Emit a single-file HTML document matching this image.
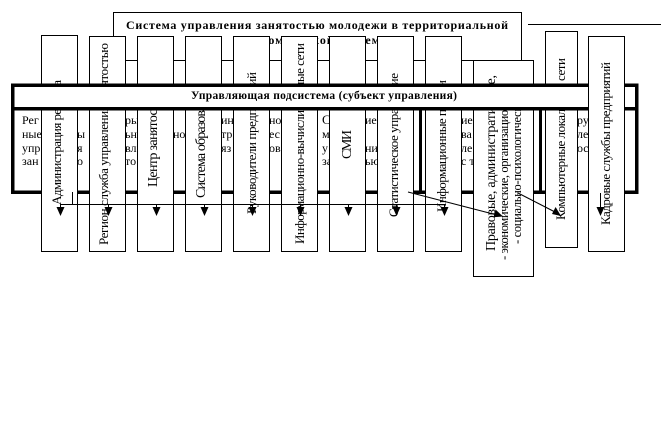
<!DOCTYPE html>
<html><head><meta charset="utf-8"><style>
html,body{margin:0;padding:0;background:#fff;width:666px;height:445px;overflow:hidden}
svg{display:block}
text{font-family:"Liberation Serif",serif;fill:#000}
.b{fill:#fff;stroke:#000;stroke-width:1}
.t{font-size:13px}
.p{font-size:12px}
.l{stroke:#000;stroke-width:1;fill:none}
</style></head><body>
<svg width="666" height="445" viewBox="0 0 666 445" shape-rendering="crispEdges">
<rect x="113.5" y="12.5" width="408" height="48" class="b"/>
<text x="126" y="29" font-size="12" font-weight="bold" textLength="382" lengthAdjust="spacing">Система управления занятостью молодежи в территориальной</text>
<text x="240" y="44" font-size="12" font-weight="bold" textLength="146" lengthAdjust="spacing">экономической системе</text>
<line x1="528" y1="24.5" x2="661" y2="24.5" class="l"/>

<rect x="12.5" y="85" width="624" height="107" fill="#fff"/>
<g class="p">
<text x="22" y="124">Рег</text><text x="125" y="124">ры</text><text x="221" y="124">инф</text><text x="269" y="124">ног</text><text x="322" y="124" font-size="13">С</text><text x="365" y="124">ие</text><text x="461" y="124">ие</text><text x="577" y="124">руд</text>
<text x="22" y="138">ные</text><text x="77" y="138">ы</text><text x="125" y="138">ьн</text><text x="173" y="138">но</text><text x="221" y="138">тр</text><text x="269" y="138">ес</text><text x="322" y="138">м</text><text x="461" y="138">ва</text><text x="577" y="138">ле</text>
<text x="22" y="152">упр</text><text x="77" y="152">я</text><text x="125" y="152">вл</text><text x="221" y="152">яз</text><text x="269" y="152">ов</text><text x="322" y="152">у</text><text x="365" y="152">ни.</text><text x="461" y="152">ле</text><text x="577" y="152">ост</text>
<text x="22" y="165">зан</text><text x="77" y="165">о</text><text x="125" y="165">то</text><text x="322" y="165">за</text><text x="365" y="165">ью</text><text x="461" y="165">с т</text>
</g>
<rect x="12.5" y="85" width="624" height="107" fill="none" stroke="#000" stroke-width="3.5"/>
<line x1="420.5" y1="108" x2="420.5" y2="192" stroke="#000" stroke-width="3"/>
<line x1="540.5" y1="108" x2="540.5" y2="192" stroke="#000" stroke-width="3"/>

<rect x="41.5" y="35.5" width="36" height="216" class="b"/>
<rect x="89.5" y="36.5" width="36" height="215" class="b"/>
<rect x="137.5" y="36.5" width="36" height="215" class="b"/>
<rect x="185.5" y="36.5" width="36" height="215" class="b"/>
<rect x="233.5" y="36.5" width="36" height="215" class="b"/>
<rect x="281.5" y="36.5" width="36" height="215" class="b"/>
<rect x="329.5" y="36.5" width="36" height="215" class="b"/>
<rect x="377.5" y="36.5" width="36" height="215" class="b"/>
<rect x="425.5" y="36.5" width="36" height="215" class="b"/>
<rect x="473.5" y="60.5" width="60" height="216" class="b"/>
<rect x="545.5" y="31.5" width="32" height="216" class="b"/>

<g class="t">
<text transform="translate(61,205) rotate(-90)" textLength="125">Администрация региона</text>
<text transform="translate(108,245) rotate(-90)" textLength="202">Регион служба управления занятостью</text>
<text transform="translate(157,187) rotate(-90)" font-size="14" textLength="90">Центр занятости</text>
<text transform="translate(205,198) rotate(-90)" font-size="14" textLength="112">Система образования</text>
<text transform="translate(256,214) rotate(-90)" textLength="142">Руководители предприятий</text>
<text transform="translate(304,244) rotate(-90)" textLength="201">Информационно-вычислительные сети</text>
<text transform="translate(351,159) rotate(-90)" font-size="14" textLength="29">СМИ</text>
<text transform="translate(398,217) rotate(-90)" textLength="144">Статистическое управление</text>
<text transform="translate(446,212) rotate(-90)" textLength="132">Информационные потоки</text>
<text transform="translate(495,251) rotate(-90)" font-size="14" textLength="176">Правовые,  административные,</text>
<text transform="translate(508,260) rotate(-90)" font-size="12.5" textLength="176">- экономические, организационные</text>
<text transform="translate(521,244) rotate(-90)" font-size="12.5" textLength="150">- социально-психологические</text>
<text transform="translate(565,220) rotate(-90)" textLength="162">Компьютерные локальные сети</text>
</g>

<rect x="12.5" y="85" width="624" height="23.5" fill="#fff" stroke="#000" stroke-width="3.5"/>
<text x="191" y="99" font-size="11.5" font-weight="bold" textLength="266" lengthAdjust="spacing">Управляющая подсистема (субъект управления)</text>

<rect x="588.5" y="36.5" width="36" height="215" class="b"/>
<text transform="translate(610,225) rotate(-90)" class="t" textLength="163">Кадровые службы предприятий</text>

<line x1="72.5" y1="192" x2="72.5" y2="204" class="l"/>
<line x1="60" y1="204.500" x2="444" y2="204.500" class="l"/>
<g fill="#000" shape-rendering="auto">
<path d="M56.500 207h8l-4 9z"/><path d="M104.500 207h8l-4 9z"/><path d="M152.500 207h8l-4 9z"/><path d="M200.500 207h8l-4 9z"/><path d="M248.500 207h8l-4 9z"/><path d="M296.500 207h8l-4 9z"/><path d="M344.500 207h8l-4 9z"/><path d="M392.500 207h8l-4 9z"/><path d="M440.500 207h8l-4 9z"/><path d="M596.500 207h8l-4 9z"/>
<path d="M503 216.500l-9.500 0.800 2-7.800z"/><path d="M561 216l-9-2 3.600-7z"/>
</g>
<g class="l">
<line x1="60.500" y1="204" x2="60.500" y2="209"/><line x1="108.500" y1="204" x2="108.500" y2="209"/><line x1="156.500" y1="204" x2="156.500" y2="209"/><line x1="204.500" y1="204" x2="204.500" y2="209"/><line x1="252.500" y1="204" x2="252.500" y2="209"/><line x1="300.500" y1="204" x2="300.500" y2="209"/><line x1="348.500" y1="204" x2="348.500" y2="209"/><line x1="396.500" y1="204" x2="396.500" y2="209"/><line x1="444.500" y1="204" x2="444.500" y2="209"/>
<line x1="600.500" y1="193" x2="600.500" y2="209"/>
<line x1="408" y1="192" x2="497" y2="215" shape-rendering="auto"/>
<line x1="518" y1="193" x2="555" y2="212" shape-rendering="auto"/>
</g>
</svg>
</body></html>
